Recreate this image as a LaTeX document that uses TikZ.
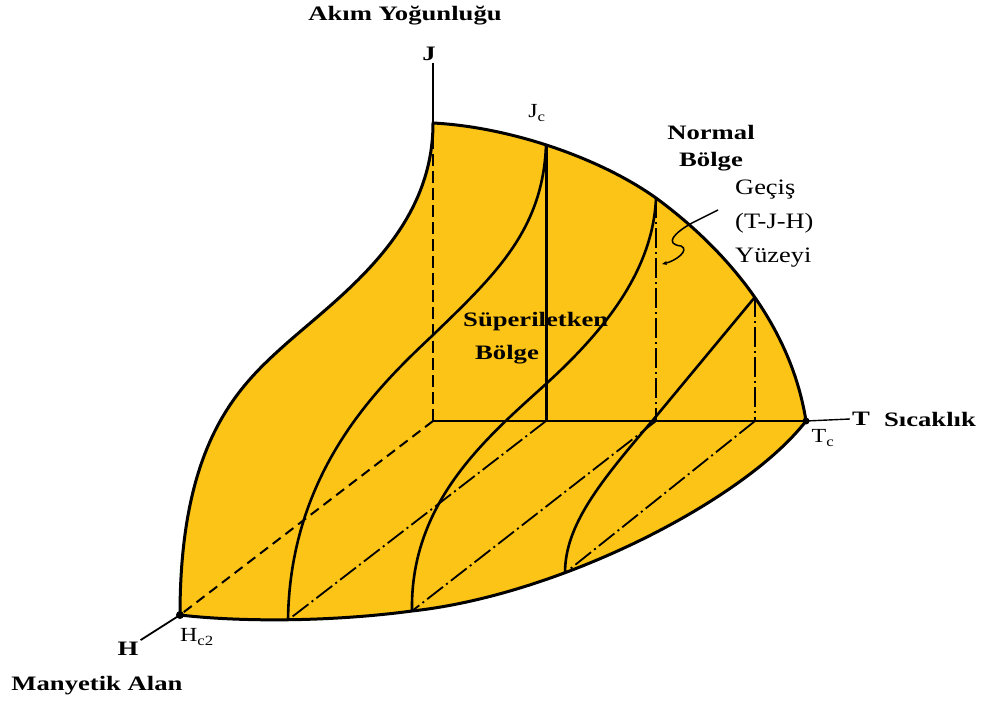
\documentclass[tikz,border=0pt]{standalone}
\usepackage{fontspec}
\setmainfont{Liberation Serif}[FakeStretch=1.2, BoldFeatures={FakeStretch=1.3}]
\usepackage{xcolor}
\usepackage{tikz}
\usetikzlibrary{arrows.meta, calc}
\definecolor{yuzeyrengi}{RGB}{252,196,22}

\begin{document}
\begin{tikzpicture}[x=1pt, y=-1pt, line join=round,
  kenar/.style={line width=3pt},
  dilim/.style={line width=2.6pt},
  gizli/.style={line width=2pt, dash pattern=on 10pt off 6pt},
  zincir/.style={line width=1.8pt, dash pattern=on 20pt off 4pt on 2pt off 4pt},
  baslik/.style={font=\fontsize{20.5}{27}\selectfont\bfseries, inner sep=2pt},
  yazi/.style={font=\fontsize{22}{34}\selectfont, inner sep=2pt},
  altyazi/.style={font=\fontsize{20}{24}\selectfont, inner sep=1pt}]
\useasboundingbox (0,0) rectangle (987,706);

\coordinate (O) at (433,421);
\coordinate (jtop) at (433,123);
\coordinate (tc) at (806,421);
\coordinate (hc2) at (180,615);
\coordinate (t1) at (546,145);
\coordinate (t2) at (656,198);
\coordinate (t3) at (755,297);
\coordinate (b1) at (288,620);
\coordinate (b2) at (412,611);
\coordinate (b3) at (565,573);

% yuzey
\filldraw[fill=yuzeyrengi, kenar]
  (hc2) .. controls (180,440) and (240,385) .. (287,343) .. controls (345,292) and (433,230) .. (jtop)
  .. controls (510,127) and (600,158) .. (t2) .. controls (720,245) and (790,320) .. (tc)
  .. controls (745,500) and (560,595) .. (b2) .. controls (330,622) and (240,622) .. (hc2) -- cycle;

% gizli cizgiler
\draw[gizli] (O) -- (hc2);
\draw[gizli, dash pattern=on 12pt off 5pt] (O) -- (jtop);
\draw[zincir] (t1 |- O) -- (b1);
\draw[zincir] (t2 |- O) -- (b2);
\draw[zincir] (t3 |- O) -- (b3);
\draw[zincir] (t2) -- (t2 |- O);
\draw[zincir] (t3) -- (t3 |- O);
\draw[kenar] (t1) -- (t1 |- O);
\draw[line width=2.2pt] (O) -- (tc);

% dilimler
\draw[dilim] (t1) .. controls (543,230) and (495,275) .. (433,335) .. controls (380,385) and (290,470) .. (b1);
\draw[dilim] (t2) .. controls (653,270) and (605,330) .. (547,383) .. controls (490,435) and (410,500) .. (b2);
\draw[dilim] (t3) -- (653,420) .. controls (600,482) and (565,525) .. (b3);

% etiketler
\node[baslik] (akim) at (405,16) {Akım Yoğunluğu};
\node[baslik] (J) at (429,54) {J};
\node[altyazi] (jclabel) at (537,113) {J\textsubscript{c}};
\node[baslik, align=center] (normal) at (711,148) {Normal\\Bölge};
\node[yazi, align=left, anchor=west] (gecis) at (733,224) {Geçiş\\(T-J-H)\\Yüzeyi};
\node[baslik, font=\fontsize{20.5}{33}\selectfont\bfseries, align=left, anchor=west] (super) at (461,338) {Süperiletken\\\hspace*{12pt}Bölge};
\node[baslik] (T) at (861,419) {T};
\node[baslik] (sicaklik) at (930,419) {Sıcaklık};
\node[altyazi] (tclabel) at (823,438) {T\textsubscript{c}};
\node[baslik] (H) at (128,649) {H};
\node[altyazi] (hclabel) at (197,637) {H\textsubscript{c2}};
\node[baslik] (manyetik) at (97,686) {Manyetik Alan};

% eksenler
\draw[dilim] (jtop) -- (jtop |- J.south);
\draw[line width=1.4pt] (tc) -- (T.west);
\draw[line width=1.8pt] (hc2) -- (H.north east);
\fill (hc2) circle (4pt);
\fill (tc) circle (3.5pt);

\coordinate (yuzeyok) at (662,264);
\draw[line width=1.5pt, -{Stealth[length=5pt, width=4pt]}] ($(gecis.west)+(-15pt,14pt)$) -- (692,223)
  .. controls (674,233) and (664,244) .. (681,246) .. controls (690,250) and (676,261) .. (yuzeyok);
\end{tikzpicture}
\end{document}
